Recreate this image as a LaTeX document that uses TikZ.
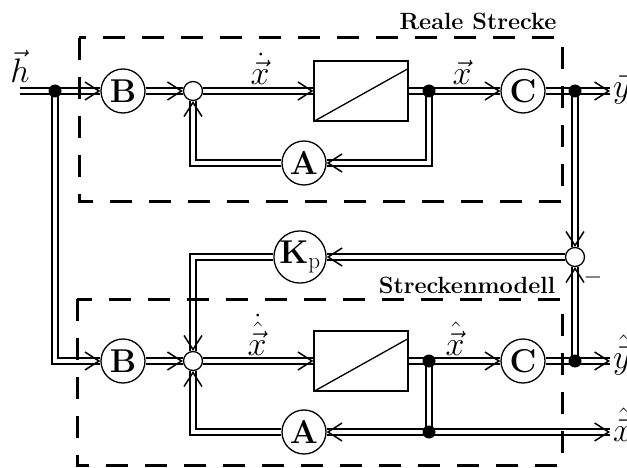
\RequirePackage{fix-cm}
\documentclass[tikz,border=0pt]{standalone}
\usepackage{amsmath}
\usetikzlibrary{arrows.meta}
\pgfdeclarelayer{bg}
\pgfsetlayers{bg,main}
\begin{document}
\begin{tikzpicture}[x=1pt,y=-1pt,
  sig/.style={draw=black,double=white,double distance=4.2pt,line width=1.7pt},
  tipa/.style={draw=white,line width=0.3pt,-{Straight Barb[length=14pt,width=18pt,line width=1.5pt,color=black]}},
  blk/.style={circle,draw,line width=1.3pt,minimum size=44pt,inner sep=0pt,fill=white,font=\fontsize{33}{35}\selectfont\bfseries},
  sumc/.style={circle,draw,line width=1.3pt,minimum size=19pt,inner sep=0pt,fill=white},
  dotn/.style={circle,fill=black,minimum size=13pt,inner sep=0pt},
  integ/.style={rectangle,draw,line width=1.3pt,minimum width=94pt,minimum height=60pt,inner sep=0pt},
  dbox/.style={draw,line width=3pt,dash pattern=on 22pt off 17pt},
  lbl/.style={font=\fontsize{34}{36}\selectfont,inner sep=0pt},
  ttl/.style={font=\fontsize{23.5}{26}\selectfont\bfseries,inner sep=0pt}]
\useasboundingbox (0,0) rectangle (627,468);
% blocks
\node[blk] (Bu) at (123,91) {B};
\node[sumc] (su) at (193,91) {};
\node[integ] (Iu) at (361,91) {};
\node[blk] (Cu) at (523,91) {C};
\node[blk] (Au) at (304,163) {A};
\node[sumc] (se) at (575,257) {};
\node[blk,minimum size=51pt] (Kp) at (300,257) {$\mathbf{K}_{\mathrm{p}}$};
\node[blk] (Bl) at (123,361) {B};
\node[sumc] (sl) at (193,361) {};
\node[integ] (Il) at (361,361) {};
\node[blk] (Cl) at (523,361) {C};
\node[blk] (Al) at (304,432) {A};
\node[dotn] (d1) at (55,91) {};
\node[dotn] (d2) at (429,91) {};
\node[dotn] (d3) at (575,91) {};
\node[dotn] (d4) at (429,361) {};
\node[dotn] (d5) at (575,361) {};
\node[dotn] (d6) at (429,432) {};
\coordinate (hin) at (20,91);
\coordinate (yo) at (610,91);
\coordinate (yho) at (610,361);
\coordinate (xho) at (610,432);
% integrator diagonals
\draw[line width=1.3pt] (Iu.south west) -- ([yshift=-8pt]Iu.north east);
\draw[line width=1.3pt] (Il.south west) -- ([yshift=-8pt]Il.north east);
% labels
\node[lbl,anchor=base] (lh) at (20,83) {$\vec{h}$};
\node[lbl,anchor=base] (lxd) at (260,85) {$\dot{\vec{x}}$};
\node[lbl,anchor=base] (lx) at (462,85) {$\vec{x}$};
\node[lbl,anchor=base west] (ly) at (613,98) {$\vec{y}$};
\node[lbl,anchor=base] (lxhd) at (257,355) {$\dot{\hat{\vec{x}}}$};
\node[lbl,anchor=base] (lxh) at (455,355) {$\hat{\vec{x}}$};
\node[lbl,anchor=base west] (lyh) at (613,368) {$\hat{\vec{y}}$};
\node[lbl,anchor=base west] (lxho) at (613,441) {$\hat{\vec{x}}$};
\node[font=\fontsize{24}{26}\selectfont,inner sep=0pt] (mn) at (593,277) {$-$};
\node[ttl,anchor=base] (t1) at (478,30) {Reale Strecke};
\node[ttl,anchor=base] (t2) at (467,293) {Streckenmodell};
\begin{pgfonlayer}{bg}
\draw[sig] (hin) -- (Bu.west);
\draw[sig] (d1.center) |- (Bl.west);
\draw[sig] (Bu.east) -- (su.west);
\draw[sig] (su.east) -- (Iu.west);
\draw[sig] (Iu.east) -- (Cu.west);
\draw[sig] (d2.center) |- (Au.east);
\draw[sig] (Au.west) -| (su.south);
\draw[sig] (Cu.east) -- (yo);
\draw[sig] (d3.center) -- (se.north);
\draw[sig] (se.west) -- (Kp.east);
\draw[sig] (Kp.west) -| (sl.north);
\draw[sig] (Bl.east) -- (sl.west);
\draw[sig] (sl.east) -- (Il.west);
\draw[sig] (Il.east) -- (Cl.west);
\draw[sig] (d4.center) -- (d6.center);
\draw[sig] (Al.east) -- (xho);
\draw[sig] (Al.west) -| (sl.south);
\draw[sig] (Cl.east) -- (yho);
\draw[sig] (d5.center) -- (se.south);
% arrow tips
\draw[tipa] ([xshift=-3pt]Bu.west) -- (Bu.west);
\draw[tipa] ([xshift=-3pt]Bl.west) -- (Bl.west);
\draw[tipa] ([xshift=-3pt]su.west) -- (su.west);
\draw[tipa] ([xshift=-3pt]sl.west) -- (sl.west);
\draw[tipa] ([xshift=-3pt]Iu.west) -- (Iu.west);
\draw[tipa] ([xshift=-3pt]Il.west) -- (Il.west);
\draw[tipa] ([xshift=-3pt]Cu.west) -- (Cu.west);
\draw[tipa] ([xshift=-3pt]Cl.west) -- (Cl.west);
\draw[tipa] ([xshift=-3pt]yo) -- (yo);
\draw[tipa] ([xshift=-3pt]yho) -- (yho);
\draw[tipa] ([xshift=-3pt]xho) -- (xho);
\draw[tipa] ([xshift=3pt]Au.east) -- (Au.east);
\draw[tipa] ([xshift=3pt]Al.east) -- (Al.east);
\draw[tipa] ([xshift=3pt]Kp.east) -- (Kp.east);
\draw[tipa] ([yshift=-3pt]su.south) -- (su.south);
\draw[tipa] ([yshift=-3pt]sl.south) -- (sl.south);
\draw[tipa] ([yshift=-3pt]se.south) -- (se.south);
\draw[tipa] ([yshift=3pt]sl.north) -- (sl.north);
\draw[tipa] ([yshift=3pt]se.north) -- (se.north);
% dashed boxes
\draw[dbox] (79,38) rectangle (562,202);
\draw[dbox] (77,299) rectangle (562,465);
\end{pgfonlayer}
\end{tikzpicture}
\end{document}
